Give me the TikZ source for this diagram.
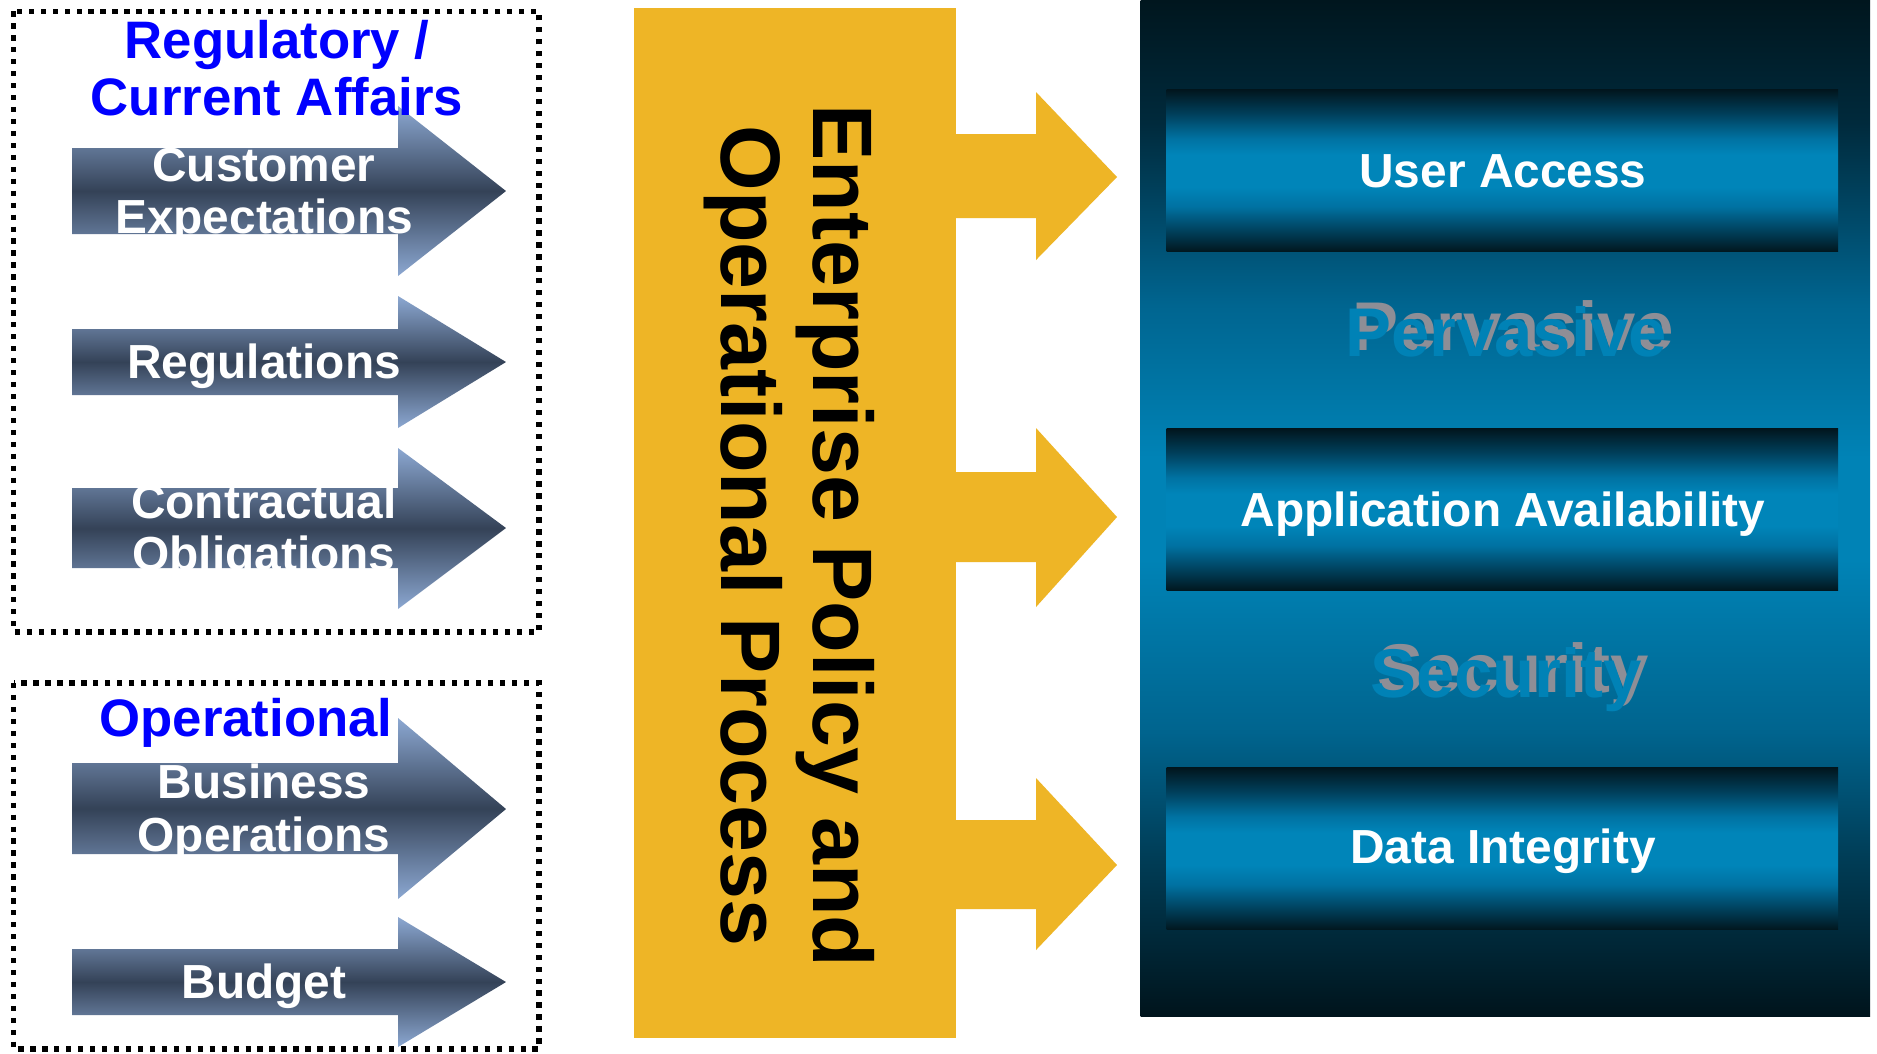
\documentclass[tikz,border=0pt]{standalone}
\usepackage{fontspec}
\setmainfont{Liberation Sans}
\usetikzlibrary{calc}

% palette
\definecolor{gold}{HTML}{EEB526}
\definecolor{arrLight}{HTML}{8CA8D2}
\definecolor{arrDark}{HTML}{344257}
\definecolor{titleBlue}{HTML}{0000FF}
\definecolor{ghost}{HTML}{8E8E96}
\definecolor{ghostBlue}{HTML}{0082B6}
\definecolor{pTop}{HTML}{00161E}
\definecolor{pA}{HTML}{002A3C}
\definecolor{pB}{HTML}{006590}
\definecolor{pMid}{HTML}{0083B6}
\definecolor{pC}{HTML}{00648E}
\definecolor{pD}{HTML}{003E58}
\definecolor{pBot}{HTML}{00141C}
\definecolor{bEdge}{HTML}{01161E}
\definecolor{bA}{HTML}{00405C}
\definecolor{bB}{HTML}{0072A2}
\definecolor{bMid}{HTML}{0085B9}

% vertical shadings (0bp = bottom, 25bp..75bp spans the shaded path)
\pgfdeclareverticalshading{panelshade}{100bp}{color(0bp)=(pBot); color(25bp)=(pBot); color(33bp)=(pD); color(39bp)=(pC); color(47.5bp)=(pMid); color(52.5bp)=(pMid); color(60bp)=(pB); color(69bp)=(pA); color(75bp)=(pTop); color(100bp)=(pTop)}
\pgfdeclareverticalshading{barshade}{100bp}{color(0bp)=(bEdge); color(25bp)=(bEdge); color(31.5bp)=(bA); color(39bp)=(bB); color(45bp)=(bMid); color(55bp)=(bMid); color(60bp)=(bB); color(67.5bp)=(bA); color(75bp)=(bEdge); color(100bp)=(bEdge)}

% grey input arrow: #1 shaft top, #2 shaft bottom, #3 head top, #4 head bottom, #5 tip y, #6 contents
\newcommand\GArrow[6]{%
  \begin{scope}
    \clip (72,#1) -- (398,#1) -- (398,#3) -- (506,#5) -- (398,#4) -- (398,#2) -- (72,#2) -- cycle;
    \shade[greyshade] (72,#3) rectangle (506,#4);
    #6
  \end{scope}}

\begin{document}
\begin{tikzpicture}[x=0.01cm, y=-0.01cm,
  dotbox/.style={draw=black, line width=1.5pt, dash pattern=on 1.5pt off 1.9pt},
  heading/.style={text=titleBlue, font=\bfseries\fontsize{15pt}{16pt}\selectfont, anchor=base, inner sep=0pt},
  arrlabel/.style={text=white, font=\bfseries\fontsize{13.6pt}{15pt}\selectfont, anchor=base, inner sep=0pt},
  greyshade/.style={top color=arrLight, bottom color=arrLight, middle color=arrDark},
  vtext/.style={text=black, font=\bfseries\fontsize{24pt}{28pt}\selectfont, rotate=-90, anchor=base, inner sep=0pt},
  ghosttext/.style={font=\bfseries\fontsize{19.6pt}{22pt}\selectfont, anchor=base, inner sep=0pt},
  barbox/.style={shade, shading=barshade, draw=none, inner sep=0pt, minimum width=6.71cm, minimum height=1.62cm, anchor=north west}]

\useasboundingbox (0,0) rectangle (1877,1053);
\fill[white] (0,0) rectangle (1877,1053);

% ---- left: drivers ----
\draw[dotbox] (13.7,11.3) rectangle (539,632);
\draw[dotbox] (13.7,683) rectangle (539,1049);

\GArrow{148}{234}{106}{276}{191}{%
  \node[arrlabel] (ce1) at (264,181) {Customer};
  \node[arrlabel] (ce2) at (264,233) {Expectations};}
\GArrow{329}{395}{296}{428}{362}{%
  \node[arrlabel] (rg) at (264,378) {Regulations};}
\GArrow{488}{568}{448}{609}{528}{%
  \node[arrlabel] (co1) at (264,518) {Contractual};
  \node[arrlabel] (co2) at (264,570) {Obligations};}
\GArrow{763}{854}{718}{899}{809}{%
  \node[arrlabel] (bo1) at (264,798) {Business};
  \node[arrlabel] (bo2) at (264,851) {Operations};}
\GArrow{949}{1015}{917}{1047}{982}{%
  \node[arrlabel] (bu) at (264,998) {Budget};}

\node[heading] (h1a) at (277,58) {Regulatory /};
\node[heading] (h1b) at (277,115) {Current Affairs};
\node[heading] (h2) at (246,736) {Operational};

% ---- centre: policy block with its three outputs ----
\node (core) [fill=gold, inner sep=0pt, minimum width=3.22cm, minimum height=10.30cm, anchor=north west] at (633,7) {};
\foreach \st/\sb/\ht/\hb/\ty in {134/218/92/260/177, 472/562/428/607/517, 820/909/778/950/865}{
  \fill[gold] (950,\st) -- (1036,\st) -- (1036,\ht) -- (1117,\ty) -- (1036,\hb) -- (1036,\sb) -- (950,\sb) -- cycle;
}
\node[vtext] (ep1) at (813,536) {Enterprise Policy and};
\node[vtext] (ep2) at (721,536) {Operational Process};

% ---- right: outcomes panel ----
\node (panel) [shade, shading=panelshade, draw=none, inner sep=0pt, minimum width=7.29cm, minimum height=10.15cm, anchor=north west] at (1140,0) {};
\node (ua) [barbox] at (1166,89) {};
\node (aa) [barbox] at (1166,428) {};
\node (di) [barbox] at (1166,767) {};

\node[arrlabel] (ual) at (1503,187) {User Access};
\node[arrlabel] (aal) at (1503,526) {Application Availability};
\node[arrlabel] (dil) at (1503,863) {Data Integrity};

\node[ghosttext, text=ghost] (pv) at (1513,350) {Pervasive};
\node[ghosttext, text=ghostBlue] (pvs) at (1506,356) {Pervasive};
\node[ghosttext, text=ghost] (sc) at (1513,692) {Security};
\node[ghosttext, text=ghostBlue] (scs) at (1506,697) {Security};

\end{tikzpicture}
\end{document}
